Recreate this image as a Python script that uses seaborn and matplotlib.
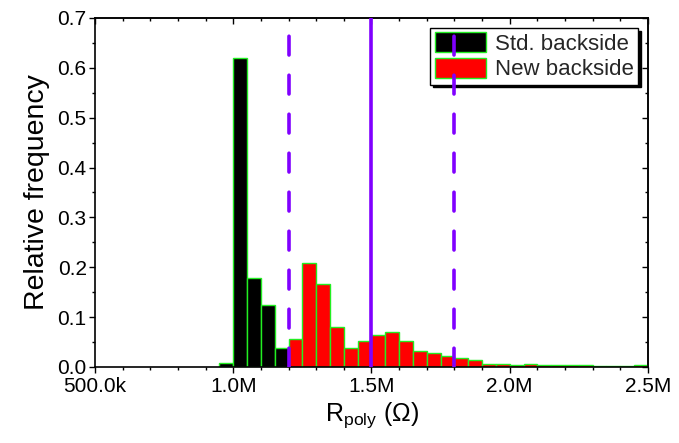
import numpy as np
import pandas as pd
import matplotlib
matplotlib.use("Agg")
import matplotlib.pyplot as plt
import seaborn as sns
from matplotlib.patches import Patch
from matplotlib.ticker import MultipleLocator

# ---- data ----
bin_width = 50e3
std_start = 0.95e6
std_freq = [0.007, 0.620, 0.178, 0.124, 0.039]
new_start = 1.20e6
new_freq = [0.056, 0.209, 0.167, 0.080, 0.039, 0.053, 0.065, 0.070, 0.052,
            0.033, 0.028, 0.023, 0.019, 0.015, 0.006, 0.005, 0.003, 0.005,
            0.003, 0.003, 0.004, 0.004, 0.002, 0.0015, 0.002, 0.004]
mean_line = 1.5e6
limit_lines = [1.2e6, 1.8e6]
x_ticks = [0.5e6, 1.0e6, 1.5e6, 2.0e6, 2.5e6]
x_tick_labels = ["500.0k", "1.0M", "1.5M", "2.0M", "2.5M"]
labels = ["Std. backside", "New backside"]

sns.set_theme(style="ticks")
plt.rcParams["font.family"] = ["Liberation Sans", "DejaVu Sans"]
plt.rcParams["mathtext.fontset"] = "custom"
plt.rcParams["mathtext.rm"] = "Liberation Sans"
plt.rcParams["mathtext.it"] = "Liberation Sans"

def make_df(start, freq):
    n = len(freq)
    centers = start + bin_width * (np.arange(n) + 0.5)
    return pd.DataFrame({"x": centers, "w": freq}), (start, start + n * bin_width)

df_std, r_std = make_df(std_start, std_freq)
df_new, r_new = make_df(new_start, new_freq)

fig = plt.figure(figsize=(6.79, 4.43), dpi=100)
ax = fig.add_axes([0.1399, 0.1716, 0.8144, 0.7878])

edge_green = "#22ee22"
sns.histplot(data=df_std, x="x", weights="w", binwidth=bin_width, binrange=r_std, ax=ax,
             color="black", edgecolor=edge_green, linewidth=1.0, alpha=1, zorder=2)
sns.histplot(data=df_new, x="x", weights="w", binwidth=bin_width, binrange=r_new, ax=ax,
             color="#ff0000", edgecolor=edge_green, linewidth=1.0, alpha=1, zorder=2)

purple = "#8000ff"
ax.axvline(mean_line, color=purple, lw=2.6, zorder=6)
for xv in limit_lines:
    ax.axvline(xv, color=purple, lw=2.6, ls=(0, (5.2, 5.6)),
               dash_capstyle="round", zorder=6)

ax.set_xlim(0.5e6, 2.5e6)
ax.set_ylim(0, 0.7)
ax.set_xticks(x_ticks)
ax.set_xticklabels(x_tick_labels)
ax.xaxis.set_minor_locator(MultipleLocator(100e3))
ax.yaxis.set_major_locator(MultipleLocator(0.1))
ax.yaxis.set_minor_locator(MultipleLocator(0.05))
ax.yaxis.set_major_formatter(matplotlib.ticker.FormatStrFormatter("%.1f"))
ax.tick_params(which="major", direction="out", length=4, width=1, labelsize=15,
               color="black", labelcolor="black", pad=2)
ax.tick_params(axis="x", which="major", pad=3)
ax.tick_params(which="minor", direction="out", length=2.5, width=1, color="black")
for s in ax.spines.values():
    s.set_color("black")
    s.set_linewidth(1.2)

secx = ax.secondary_xaxis("top")
secx.set_xticks(x_ticks)
secx.xaxis.set_minor_locator(MultipleLocator(100e3))
secx.tick_params(which="major", direction="in", length=4, width=1, labeltop=False, color="black")
secx.tick_params(which="minor", direction="in", length=2.5, width=1, color="black")
secx.spines["top"].set_linewidth(1.2)
secy = ax.secondary_yaxis("right")
secy.yaxis.set_major_locator(MultipleLocator(0.1))
secy.yaxis.set_minor_locator(MultipleLocator(0.05))
secy.tick_params(which="major", direction="in", length=4, width=1, labelright=False, color="black")
secy.tick_params(which="minor", direction="in", length=2.5, width=1, color="black")
secy.spines["right"].set_linewidth(1.2)

ax.set_xlabel(r"R$_{\mathrm{poly}}$ ($\Omega$)", fontsize=18, color="black", labelpad=3)
ax.set_ylabel("Relative frequency", fontsize=20.5, color="black", labelpad=5)

handles = [Patch(facecolor="black", edgecolor=edge_green, linewidth=1.0),
           Patch(facecolor="#ff0000", edgecolor=edge_green, linewidth=1.0)]
leg = ax.legend(handles, labels, loc="upper right", fontsize=16, frameon=True,
                fancybox=False, edgecolor="black", framealpha=1,
                shadow={"color": "black", "alpha": 1},
                handlelength=2.3, handleheight=1.0, handletextpad=0.4,
                borderpad=0.2, labelspacing=0.12, borderaxespad=0.45)
leg.get_frame().set_linewidth(1.0)
leg.set_zorder(4)

fig.savefig("out.png", dpi=100)
